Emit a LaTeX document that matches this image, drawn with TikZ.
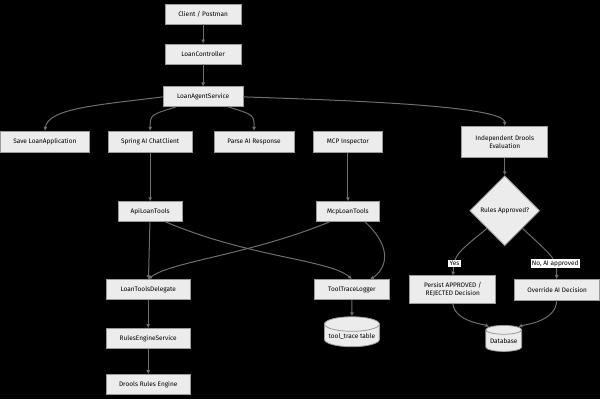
\documentclass[tikz,border=0pt]{standalone}
\usepackage{fontspec}
\setmainfont{Fira Sans}
\usetikzlibrary{shapes.geometric,arrows.meta}
\definecolor{nfill}{HTML}{ECECEC}
\definecolor{nline}{HTML}{9A9A9A}
\definecolor{eline}{HTML}{6E6E6E}
\begin{document}
\begin{tikzpicture}[x=1pt,y=-1pt,
 box/.style={draw=nline,fill=nfill,line width=0.8pt,inner sep=0pt,font=\fontsize{6.5}{8}\selectfont,align=center,minimum height=20pt},
 dia/.style={diamond,draw=nline,fill=nfill,line width=0.8pt,inner sep=0pt,minimum width=70pt,minimum height=70pt,font=\fontsize{6.5}{8}\selectfont},
 cyl/.style={cylinder,shape border rotate=90,aspect=0.3,draw=nline,fill=nfill,line width=0.8pt,font=\fontsize{6.5}{8}\selectfont,inner sep=1pt},
 lab/.style={fill=white,inner sep=1.2pt,font=\fontsize{6.5}{8}\selectfont},
 e/.style={draw=eline,line width=1pt,-{Latex[length=4pt,width=4pt]}}]
\fill[black] (0,0) rectangle (600,400);
\node[box,minimum width=76pt] (cl) at (203,14) {Client / Postman};
\node[box,minimum width=76pt] (lc) at (203,54) {LoanController};
\node[box,minimum width=80pt] (las) at (203,97) {LoanAgentService};
\node[box,minimum width=89pt,minimum height=21pt] (save) at (44.5,142) {Save LoanApplication};
\node[box,minimum width=84pt,minimum height=21pt] (spring) at (150,142) {Spring AI ChatClient};
\node[box,minimum width=80pt,minimum height=21pt] (parse) at (254,142) {Parse AI Response};
\node[box,minimum width=70pt,minimum height=21pt] (mcp) at (348,142) {MCP Inspector};
\node[box,minimum width=86pt,minimum height=31pt] (ide) at (505,142) {Independent Drools\\Evaluation};
\node[dia] (ra) at (505,211) {Rules Approved?};
\node[box,minimum width=64pt] (api) at (150,212) {ApiLoanTools};
\node[box,minimum width=64pt] (mlt) at (348,212) {McpLoanTools};
\node[box,minimum width=84pt] (ltd) at (148,290) {LoanToolsDelegate};
\node[box,minimum width=76pt] (ttl) at (352,290) {ToolTraceLogger};
\node[box,minimum width=86pt,minimum height=28pt] (per) at (453,290) {Persist APPROVED /\\REJECTED Decision};
\node[box,minimum width=85pt,minimum height=21pt] (ovr) at (557.5,290) {Override AI Decision};
\node[cyl,minimum width=55pt,minimum height=30pt] (tt) at (352,337) {tool\_trace table};
\node[cyl,minimum width=36pt,minimum height=26pt] (db) at (504,342) {Database};
\node[box,minimum width=84pt] (res) at (148,339) {RulesEngineService};
\node[box,minimum width=84pt] (dre) at (148,385) {Drools Rules Engine};

\draw[e] (cl) -- (lc);
\draw[e] (lc) -- (las);
\draw[e] (las.west) .. controls (100,105) and (48,108) .. (save.north);
\draw[e] (176,107) .. controls (150,115) .. (spring.north);
\draw[e] (228,107) .. controls (254,115) .. (parse.north);
\draw[e] (las.east) .. controls (330,100) and (505,105) .. (ide.north);
\draw[e] (spring) -- (api);
\draw[e] (mcp) -- (mlt);
\draw[e] (api) -- (ltd);
\draw[e] (165,222) .. controls (250,258) and (330,260) .. (ttl.north);
\draw[e] (330,222) .. controls (250,255) and (170,262) .. (ltd.north);
\draw[e] (365,222) .. controls (395,250) and (385,270) .. (370,280);
\draw[e] (ltd) -- (res);
\draw[e] (res) -- (dre);
\draw[e] (ttl) -- (tt);
\draw[e] (ide) -- (ra.north);
\draw[e] (ra.south west) .. controls (455,255) .. (453,276) node[lab,pos=0.75] {Yes};
\draw[e] (ra.south east) .. controls (557,260) .. (557,279.5) node[lab,pos=0.65] {No, AI approved};
\draw[e] (453,304) .. controls (455,322) and (485,325) .. (db.north west);
\draw[e] (557,300.5) .. controls (557,322) and (525,325) .. (db.north east);
\end{tikzpicture}
\end{document}
